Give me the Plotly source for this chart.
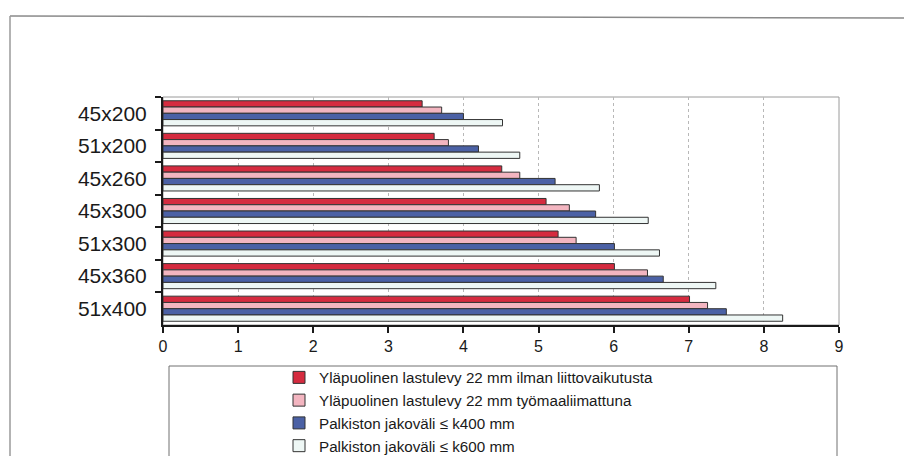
import plotly.graph_objects as go

# Beam sizes (top to bottom) and span values for each floor variant
categories = ["45x200", "51x200", "45x260", "45x300", "51x300", "45x360", "51x400"]
series_names = [
    "Yläpuolinen lastulevy 22 mm ilman liittovaikutusta",
    "Yläpuolinen lastulevy 22 mm työmaaliimattuna",
    "Palkiston jakoväli ≤ k400 mm",
    "Palkiston jakoväli ≤ k600 mm",
]
red_values = [3.45, 3.61, 4.51, 5.10, 5.26, 6.01, 7.01]
pink_values = [3.71, 3.80, 4.75, 5.41, 5.50, 6.45, 7.25]
blue_values = [4.00, 4.20, 5.22, 5.76, 6.01, 6.66, 7.50]
white_values = [4.52, 4.75, 5.81, 6.46, 6.61, 7.36, 8.25]
x_ticks = list(range(0, 10))

colors = ["#d52b3f", "#f3b5c0", "#4b61a5", "#eef7f5"]
all_values = [red_values, pink_values, blue_values, white_values]

FONT = "Liberation Sans, Arial, sans-serif"

fig = go.Figure()
for name, vals, col in zip(series_names, all_values, colors):
    fig.add_trace(go.Bar(
        y=categories, x=vals, name=name, orientation="h",
        marker=dict(color=col, line=dict(color="#333333", width=1)),
    ))

W, H = 904, 456
L, R, T, B = 163, 839, 97, 325


def px_x(p):
    return (p - L) / (R - L)


def px_y(p):
    return (B - p) / (B - T)


shapes = [
    # plot area border (grey, top/right visible)
    dict(type="rect", xref="paper", yref="paper", x0=0, x1=1, y0=0, y1=1,
         line=dict(color="#9a9a9a", width=1), layer="below"),
    # outer chart frame
    dict(type="line", xref="paper", yref="paper",
         x0=px_x(10), x1=px_x(904), y0=px_y(16), y1=px_y(18),
         line=dict(color="#8a8a8a", width=1.5)),
    dict(type="line", xref="paper", yref="paper",
         x0=px_x(10), x1=px_x(10), y0=px_y(16), y1=px_y(460),
         line=dict(color="#9a9a9a", width=1.5)),
    # legend box
    dict(type="rect", xref="paper", yref="paper",
         x0=px_x(169), x1=px_x(837), y0=px_y(366), y1=px_y(470),
         line=dict(color="#707070", width=1), fillcolor="white", layer="below"),
]

fig.update_layout(
    width=W, height=H,
    margin=dict(l=L, r=W - R, t=T, b=H - B, pad=0, autoexpand=False),
    paper_bgcolor="white", plot_bgcolor="white",
    barmode="group", bargap=0.23, bargroupgap=0,
    font=dict(family=FONT, color="#1a1a1a"),
    shapes=shapes,
    showlegend=True,
    legend=dict(
        x=px_x(279), y=px_y(361), xanchor="left", yanchor="top",
        bgcolor="rgba(0,0,0,0)", borderwidth=0,
        font=dict(size=15.2, family=FONT, color="#1a1a1a"),
        traceorder="normal", itemwidth=30, tracegroupgap=0,
    ),
    xaxis=dict(
        range=[0, 9], tickvals=x_ticks, ticktext=[str(t) for t in x_ticks],
        showgrid=True, gridcolor="#b8b8b8", griddash="3px,3px", gridwidth=1,
        showline=True, linecolor="#1a1a1a", linewidth=2,
        ticks="outside", ticklen=6, tickwidth=2, tickcolor="#1a1a1a",
        tickfont=dict(size=16, family=FONT), zeroline=False, fixedrange=True,
        ticklabelstandoff=0,
    ),
    yaxis=dict(
        categoryorder="array", categoryarray=categories, autorange="reversed",
        showline=True, linecolor="#1a1a1a", linewidth=2,
        ticks="outside", ticklen=6, tickwidth=2, tickcolor="#1a1a1a",
        tickson="boundaries", showgrid=False,
        tickfont=dict(size=21, family=FONT), ticklabelstandoff=10,
        fixedrange=True,
    ),
)

fig.write_html("out.html")
